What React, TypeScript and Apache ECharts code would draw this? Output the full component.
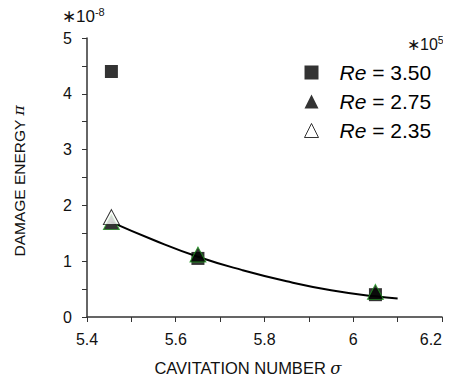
import React, { useEffect, useRef } from "react";
import * as echarts from "echarts";

const re350: [number, number][] = [
  [5.455, 4.4],
  [5.65, 1.05],
  [6.05, 0.4],
];
const re275: [number, number][] = [
  [5.455, 1.7],
  [5.65, 1.12],
  [6.05, 0.45],
];
const re235: [number, number][] = [[5.455, 1.79]];
const fitCurve: [number, number][] = [
  [5.455, 1.7],
  [5.55, 1.38],
  [5.65, 1.08],
  [5.75, 0.84],
  [5.85, 0.64],
  [5.95, 0.48],
  [6.05, 0.37],
  [6.1, 0.33],
];
const legendNames = ["3.50", "2.75", "2.35"];

const FONT = "Liberation Sans, Arial, sans-serif";

export default function App() {
  const ref = useRef<HTMLDivElement>(null);
  useEffect(() => {
    if (!ref.current) return;
    const chart = echarts.init(ref.current, undefined, { renderer: "svg" });
    const green = "#1f9a1f";
    chart.setOption({
      animation: false,
      backgroundColor: "#fff",
      grid: { left: 87, right: 9, top: 38, bottom: 63 },
      xAxis: {
        type: "value",
        min: 5.4,
        max: 6.2,
        interval: 0.2,
        axisLine: { show: true, lineStyle: { color: "#333", width: 1.5 } },
        axisTick: { show: true, length: 5, lineStyle: { color: "#333" } },
        minorTick: { show: true, splitNumber: 2, length: 5, lineStyle: { color: "#333" } },
        splitLine: { show: false },
        axisLabel: {
          color: "#111",
          fontSize: 16,
          fontFamily: FONT,
          margin: 14,
          alignMaxLabel: "right",
          formatter: (v: number) => String(Math.round(v * 10) / 10),
        },
      },
      yAxis: {
        type: "value",
        min: 0,
        max: 5,
        interval: 1,
        axisLine: { show: true, lineStyle: { color: "#333", width: 1.5 } },
        axisTick: { show: true, length: 5, lineStyle: { color: "#333" } },
        minorTick: { show: true, splitNumber: 2, length: 5, lineStyle: { color: "#333" } },
        splitLine: { show: false },
        axisLabel: { color: "#111", fontSize: 16, fontFamily: FONT, margin: 15 },
      },
      legend: {
        orient: "vertical",
        left: 299,
        top: 57,
        itemWidth: 14,
        itemHeight: 14,
        itemGap: 8,
        data: [
          { name: legendNames[0], icon: "rect", itemStyle: { color: "#000", borderWidth: 0 } },
          { name: legendNames[1], icon: "triangle", itemStyle: { color: "#000", borderWidth: 0 } },
          { name: legendNames[2], icon: "triangle", itemStyle: { color: "#fff", borderColor: "#000", borderWidth: 1 } },
        ],
        formatter: (n: string) => "{i|Re} = " + n,
        textStyle: {
          fontSize: 21,
          fontFamily: FONT,
          color: "#000",
          padding: [0, 0, 0, 16],
          rich: { i: { fontStyle: "italic", fontSize: 21, fontFamily: FONT, color: "#000" } },
        },
      },
      graphic: [
        {
          type: "text",
          left: 62,
          top: 6,
          style: {
            text: "{a|∗10}{s|-8}",
            rich: {
              a: { fontSize: 17, fontFamily: FONT, fill: "#111" },
              s: { fontSize: 11, fontFamily: FONT, fill: "#111", padding: [0, 0, 9, 0] },
            },
          },
        },
        {
          type: "text",
          left: 407,
          top: 34,
          style: {
            text: "{a|∗10}{s|5}",
            rich: {
              a: { fontSize: 16, fontFamily: FONT, fill: "#111" },
              s: { fontSize: 10.5, fontFamily: FONT, fill: "#111", padding: [0, 0, 9, 0] },
            },
          },
        },
        {
          type: "text",
          x: 19,
          y: 181,
          rotation: Math.PI / 2,
          style: {
            text: "DAMAGE ENERGY {i|π}",
            fontSize: 15.5,
            fontFamily: FONT,
            fill: "#111",
            align: "center",
            verticalAlign: "middle",
            rich: { i: { fontStyle: "italic", fontSize: 15.5, fontFamily: "DejaVu Serif", fill: "#111" } },
          },
        },
        {
          type: "text",
          x: 248,
          y: 368,
          style: {
            text: "CAVITATION NUMBER {i|σ}",
            fontSize: 16.5,
            fontFamily: FONT,
            fill: "#111",
            align: "center",
            verticalAlign: "middle",
            rich: { i: { fontStyle: "italic", fontSize: 16.5, fontFamily: "DejaVu Serif", fill: "#111" } },
          },
        },
      ],
      series: [
        {
          name: "fit",
          type: "line",
          data: fitCurve,
          smooth: true,
          showSymbol: false,
          symbol: "none",
          lineStyle: { color: "#000", width: 2 },
          z: 1,
        },
        {
          name: legendNames[0],
          type: "scatter",
          data: re350,
          symbol: "rect",
          symbolSize: 13,
          itemStyle: { color: "#000" },
          z: 2,
        },
        {
          name: legendNames[1],
          type: "scatter",
          data: re275,
          symbol: "triangle",
          symbolSize: [16, 15],
          itemStyle: { color: "#000", borderColor: green, borderWidth: 1 },
          z: 3,
        },
        {
          name: legendNames[2],
          type: "scatter",
          data: re235,
          symbol: "triangle",
          symbolSize: [16, 15],
          itemStyle: { color: "#fff", borderColor: "#000", borderWidth: 1 },
          z: 4,
        },
      ],
    });
    return () => chart.dispose();
  }, []);
  return <div ref={ref} style={{ width: 451, height: 380, marginLeft: -8, marginTop: -8 }} />;
}
